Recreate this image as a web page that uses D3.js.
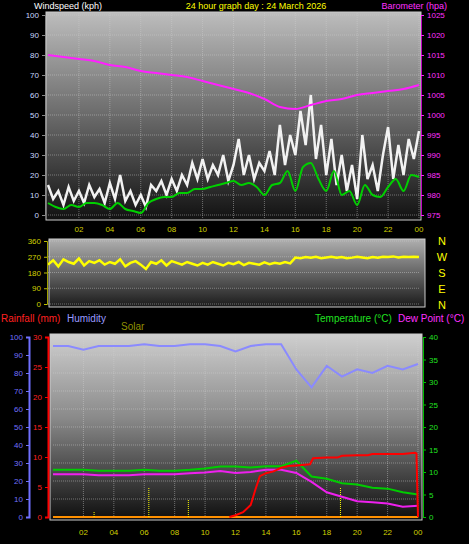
<!DOCTYPE html><html><head><meta charset="utf-8">
<script src="https://cdn.jsdelivr.net/npm/d3@7"></script>
<style>body{margin:0;background:#000}svg{display:block;font-family:"Liberation Sans",Arial,sans-serif}</style></head><body>
<svg id="c" width="469" height="544"></svg>
<script>
const hourTicks=[2,4,6,8,10,12,14,16,18,20,22,24];
const hourLabels=["02","04","06","08","10","12","14","16","18","20","22","00"];
const gust=[15,8,12,5,14,7,12,6,15,9,13,6,16,8,20,7,12,5,10,4,15,12,17,10,18,12,20,15,26,18,28,18,25,20,30,17,25,38,20,30,18,26,22,32,20,45,25,40,30,52,35,60,28,45,20,38,15,30,12,25,8,40,18,25,12,30,44,18,35,20,38,28,42];
const avgWind=[6,4,3,5,4,6,6,5,3,6,3,2,1,6,8,9,9,11,11,13,13,14,15,16,17,15,16,14,10,15,16,22,12,24,26,18,12,22,10,12,5,15,10,9,14,18,12,20,19];
const pressure=[1015,1014.5,1014,1013.5,1012.5,1012,1011,1010.5,1010,1009.5,1008.5,1007.5,1006.5,1005.5,1004,1002,1001.5,1002.5,1003.5,1004,1005,1005.5,1006,1006.5,1007.5];
const direction=[225,250,215,255,240,230,260,220,245,235,250,225,240,230,255,215,235,245,225,200,240,230,250,220,245,235,225,240,230,220,235,225,240,230,220,235,228,240,222,235,230,225,238,228,235,230,240,232,265,262,268,265,270,262,266,270,264,268,262,265,270,266,262,268,265,270,268,272,266,270,268,270,268];
const humidity=[95,95,93,95,95,95,96,95,95,96,96,95,92,95,96,96,82,72,84,78,82,80,84,82,85];
const temperature=[10.5,10.5,10.5,10.3,10.3,10.3,10.5,10.3,10.3,10.5,10.8,11.2,11.2,11.0,11.3,11.3,12.5,9.0,8.5,7.5,7.2,6.5,6.3,5.5,5.0];
const dewPoint=[9.5,9.5,9.5,9.3,9.3,9.3,9.5,9.5,9.5,9.7,9.9,10.2,9.8,10.0,10.5,10.5,9.8,7.8,5.5,4.5,3.5,3.3,3.0,2.3,2.5];
const rainHours=[11.6,12,12.5,13,13.3,13.6,14,14.5,15,15.5,16,16.9,17.1,18,18.7,19,20,20.7,21,22,23,23.8,23.9,24];
const rainfall=[0,0.3,0.8,2.0,4.5,6.8,7.3,7.6,8.2,8.5,8.6,8.8,9.8,9.9,9.9,10.2,10.3,10.3,10.5,10.5,10.5,10.7,10.6,0];
const solarHours=[2.7,6.3,8.9,18.9];
const solarValues=[1,5,3,5];

const svg=d3.select("#c");
const defs=svg.append("defs");
function grad(id,stops){const g=defs.append("linearGradient").attr("id",id).attr("x1",0).attr("y1",0).attr("x2",0).attr("y2",1);
 stops.forEach(s=>g.append("stop").attr("offset",s[0]).attr("stop-color",s[1]));}
grad("g1",[[0,"#bdbdbd"],[0.5,"#6a6a6a"],[1,"#111"]]);
grad("g2",[[0,"#b0b0b0"],[1,"#1a1a1a"]]);
grad("g3",[[0,"#cfcfcf"],[0.45,"#8a8a8a"],[1,"#0e0e0e"]]);
const ts=(y,x,t,c,a,s)=>svg.append("text").attr("x",x).attr("y",y).attr("fill",c).attr("text-anchor",a||"start").attr("font-size",s||8).text(t);
function styleAxis(g,dom,tick,txt,w){g.select(".domain").attr("stroke",dom).attr("stroke-width",w||1);g.selectAll("line").attr("stroke",tick);g.selectAll("text").attr("fill",txt).attr("font-size",8).attr("font-family","inherit");}

// ---- Top panel
const x1=d3.scaleLinear().domain([0,24]).range([48,419]);
const yW=d3.scaleLinear().domain([0,100]).range([215,15]);
const yP=d3.scaleLinear().domain([975,1025]).range([215,15]);
svg.append("rect").attr("x",46).attr("y",12).attr("width",375).attr("height",208).attr("fill","url(#g1)").attr("stroke","#ccc");
function grid(x,y,yt,xt,top,bot){
 const g=svg.append("g").attr("stroke","#d0d0d0").attr("stroke-opacity",0.45).attr("stroke-dasharray","1,1");
 yt.forEach(v=>g.append("line").attr("x1",x.range()[0]).attr("x2",x.range()[1]).attr("y1",y(v)).attr("y2",y(v)));
 xt.forEach(v=>g.append("line").attr("x1",x(v)).attr("x2",x(v)).attr("y1",top).attr("y2",bot));}
grid(x1,yW,d3.range(0,101,10),hourTicks,13,218);
const gx=i=>x1(i/3), ax=i=>x1(i/2), hx=i=>x1(i);
svg.append("path").attr("d",d3.line().x((d,i)=>gx(i)).y(d=>yW(d))(gust)).attr("fill","none").attr("stroke","#f2f2f2").attr("stroke-width",2.5);
svg.append("path").attr("d",d3.line().curve(d3.curveMonotoneX).x((d,i)=>ax(i)).y(d=>yW(d))(avgWind)).attr("fill","none").attr("stroke","#00d000").attr("stroke-width",2);
svg.append("path").attr("d",d3.line().curve(d3.curveMonotoneX).x((d,i)=>hx(i)).y(d=>yP(d))(pressure)).attr("fill","none").attr("stroke","#ff20ff").attr("stroke-width",2);
svg.append("g").attr("transform","translate(45,0)").call(d3.axisLeft(yW).tickValues(d3.range(0,101,10)).tickSize(3)).call(g=>styleAxis(g,"#888","#888","#c8d8ff"));
svg.append("g").attr("transform","translate(421,0)").call(d3.axisRight(yP).tickValues(d3.range(975,1026,5)).tickFormat(d3.format("d")).tickSize(3)).call(g=>styleAxis(g,"#c000c0","#ff20ff","#ff30ff"));
hourTicks.forEach((h,i)=>ts(232,x1(h),hourLabels[i],"#d0d000","middle",8));
ts(9,34,"Windspeed (kph)","#fff","start",9);
ts(9,256,"24 hour graph day : 24 March 2026","#ffff00","middle",9);
ts(9,447,"Barometer (hpa)","#ff30ff","end",9);

// ---- Middle panel
const yD=d3.scaleLinear().domain([0,360]).range([304,241]);
svg.append("rect").attr("x",49).attr("y",239).attr("width",376).attr("height",68).attr("fill","url(#g2)").attr("stroke","#ccc");
grid(x1,yD,[0,90,180,270,360],[],240,305);
svg.append("path").attr("d",d3.line().x((d,i)=>gx(i)).y(d=>yD(d))(direction)).attr("fill","none").attr("stroke","#ffff00").attr("stroke-width",2.5);
svg.append("g").attr("transform","translate(47,0)").call(d3.axisLeft(yD).tickValues([0,90,180,270,360]).tickSize(3)).call(g=>styleAxis(g,"#a0a000","#c0c000","#d0d000"));
["N","W","S","E","N"].forEach((t,i)=>ts(245+i*16,442,t,"#ffff00","middle",11));

// ---- Bottom panel
ts(322,1,"Rainfall (mm)","#ff2020","start",10);
ts(322,67,"Humidity","#9a9aff","start",10);
ts(330,121,"Solar","#909000","start",10);
ts(322,315,"Temperature (°C)","#20e020","start",10);
ts(322,398,"Dew Point (°C)","#ff30ff","start",10);
const x3=d3.scaleLinear().domain([0,24]).range([53,418]);
const yH=d3.scaleLinear().domain([0,100]).range([517,337]);
const yR=d3.scaleLinear().domain([0,30]).range([517,337]);
const yT=d3.scaleLinear().domain([0,40]).range([517,337]);
svg.append("rect").attr("x",50).attr("y",334).attr("width",372).attr("height",186).attr("fill","url(#g3)").attr("stroke","#ccc");
grid(x3,yH,d3.range(0,101,10),hourTicks,335,519);
svg.append("line").attr("x1",x3(0)).attr("x2",x3(24)).attr("y1",yR(0)).attr("y2",yR(0)).attr("stroke","#ff9000").attr("stroke-width",2);
solarHours.forEach((h,i)=>svg.append("line").attr("x1",x3(h)).attr("x2",x3(h)).attr("y1",yR(0)).attr("y2",yR(solarValues[i])).attr("stroke","#ffff00").attr("stroke-dasharray","1,1"));
svg.append("path").attr("d",d3.line().x((d,i)=>x3(i)).y(d=>yH(d))(humidity)).attr("fill","none").attr("stroke","#8a8aff").attr("stroke-width",2);
svg.append("path").attr("d",d3.line().x((d,i)=>x3(i)).y(d=>yT(d))(temperature)).attr("fill","none").attr("stroke","#00cc00").attr("stroke-width",2);
svg.append("path").attr("d",d3.line().x((d,i)=>x3(i)).y(d=>yT(d))(dewPoint)).attr("fill","none").attr("stroke","#ee20ee").attr("stroke-width",2);
svg.append("path").attr("d",d3.line().x((d,i)=>x3(rainHours[i])).y(d=>yR(d))(rainfall)).attr("fill","none").attr("stroke","#ff0000").attr("stroke-width",2);
svg.append("g").attr("transform","translate(29,0)").call(d3.axisLeft(yH).tickValues(d3.range(0,101,10)).tickSize(3)).call(g=>styleAxis(g,"#7070ff","#7070ff","#7070ff",2));
svg.append("g").attr("transform","translate(48,0)").call(d3.axisLeft(yR).tickValues(d3.range(0,31,5)).tickSize(3)).call(g=>styleAxis(g,"#ff0000","#ff0000","#ff2020",2));
svg.append("g").attr("transform","translate(423,0)").call(d3.axisRight(yT).tickValues(d3.range(0,41,5)).tickSize(3)).call(g=>styleAxis(g,"#00c000","#00c000","#20e020"));
hourTicks.forEach((h,i)=>ts(535,x3(h),hourLabels[i],"#d0d000","middle",8));
</script></body></html>
